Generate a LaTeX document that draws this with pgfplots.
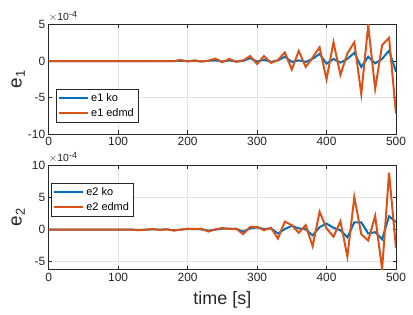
\documentclass[border=0pt]{standalone}
\usepackage{pgfplots}
\pgfplotsset{compat=1.18}
\usepackage{pgfplotstable}
\usepackage{fontspec}
\setmainfont{Liberation Sans}
\definecolor{mblue}{rgb}{0,0.447,0.741}
\definecolor{morange}{rgb}{0.85,0.325,0.098}
\definecolor{axgray}{rgb}{0.15,0.15,0.15}

\pgfplotstableread{
x e1ko e1edmd e2ko e2edmd
0 0 0 0 0
10 0 0 0 0
20 0 0 0 0
30 0 0 0 0
40 0 0 0 0
50 0 0 0 0
60 0 0 0 0
70 0 0 0 0
80 0 0 0 0
90 0 0 0 0
100 0 0 0 0
110 0 0 0 0
120 0 0 0 0
130 0 0 -0.05 -0.1
140 0 0.02 0 0
150 0 0 0.05 0.1
160 0 0.02 0 -0.05
170 0 0 0.05 0.05
180 0 0 -0.1 -0.15
190 0.05 0.15 0 0
200 0 -0.05 0.1 0.15
210 0.05 0.1 0.1 0.1
220 -0.05 -0.05 0.05 0.15
230 0.05 0.05 -0.15 -0.3
240 0.1 0.35 0 0.05
250 -0.05 -0.15 0.15 0.25
260 0.1 0.3 0.15 0.1
270 -0.05 -0.1 0.1 0.15
280 0.05 0.1 -0.3 -0.7
290 0.4 0.7 0.2 0.45
300 -0.05 -0.4 0.35 0.45
310 0.2 0.7 0.1 -0.1
320 -0.1 -0.25 0.2 0.3
330 0.1 0.15 -0.6 -1.4
340 0.6 1.2 0.1 1.25
350 -0.1 -1.15 0.6 0.7
360 0.1 1.4 0.2 -0.5
370 -0.1 -0.8 0.05 0.7
380 0.3 0.5 -0.9 -2.6
390 1.0 1.9 0.4 2.8
400 -0.35 -2.5 0.95 0.2
410 0.3 2.6 0.3 -1.1
420 -0.2 -1.9 -0.1 1.3
430 0.3 1.05 -1.2 -4.2
440 1.15 2.6 1.15 5.1
450 -0.8 -4.5 1.15 -0.7
460 0.6 4.9 -0.6 -1.7
470 -0.3 -3.8 -0.4 2.15
480 0.3 2.2 -1.5 -6.2
490 1.45 3.2 2.1 8.9
500 -1.45 -7.2 1.15 -2.9
}\data

\pgfplotsset{
  mystyle/.style={
    scale only axis,
    width=347.3bp,
    xmin=0, xmax=500,
    xtick={0,100,...,500},
    axis line style={axgray, line width=0.5bp},
    tick style={axgray, line width=0.5bp},
    major tick length=3.5bp,
    tick align=inside,
    xtick pos=both, ytick pos=both,
    grid=major,
    major grid style={gray!22, line width=0.5bp},
    tick label style={font=\fontsize{12}{12}\selectfont, text=axgray},
    /pgf/number format/assume math mode=true,
    scaled ticks=false,
    legend style={font=\fontsize{11}{12}\selectfont, draw=axgray, fill=white, inner xsep=2bp, inner ysep=2.5bp, row sep=1.5bp,
      cells={anchor=west}},
    legend image code/.code={\draw[##1, line width=2bp] (0bp,0bp) -- (29bp,0bp);},
    every axis plot/.append style={line width=2bp},
  }
}

\begin{document}
\begin{tikzpicture}
\useasboundingbox (0,0) rectangle (413bp,315bp);
\begin{axis}[mystyle, name=top,
  at={(48.7bp,181bp)}, anchor=south west,
  height=109.3bp,
  ymin=-10, ymax=5,
  ytick={-10,-5,0,5},
  ylabel={e{\fontsize{13}{13}\selectfont\raisebox{-0.45ex}{1}}},
  ylabel style={font=\fontsize{19}{19}\selectfont, at={(axis description cs:-0.088,0.5)}, anchor=center, text=axgray},
  legend style={at={(axis description cs:0.021,0.415)}, anchor=north west},
]
\addplot[mblue] table[x=x,y=e1ko]{\data};
\addlegendentry{e1 ko}
\addplot[morange] table[x=x,y=e1edmd]{\data};
\addlegendentry{e1 edmd}
\end{axis}
\node[anchor=south west, inner sep=0pt, font=\fontsize{10.5}{11}\selectfont, text=axgray] at ([yshift=3bp]top.north west) {$\times$10\raisebox{0.6ex}{\fontsize{9}{9}\selectfont -4}};
\begin{axis}[mystyle, name=bot,
  at={(48.7bp,45.7bp)}, anchor=south west,
  height=103.6bp,
  ymin=-6.2, ymax=10,
  ytick={-5,0,5,10},
  ylabel={e{\fontsize{13}{13}\selectfont\raisebox{-0.45ex}{2}}},
  ylabel style={font=\fontsize{19}{19}\selectfont, at={(axis description cs:-0.088,0.5)}, anchor=center, text=axgray},
  xlabel={time [s]},
  xlabel style={font=\fontsize{18}{18}\selectfont, text=axgray, at={(axis description cs:0.5,0)}, anchor=center, yshift=-31bp},
  legend style={at={(axis description cs:0.007,0.835)}, anchor=north west},
]
\addplot[mblue] table[x=x,y=e2ko]{\data};
\addlegendentry{e2 ko}
\addplot[morange] table[x=x,y=e2edmd]{\data};
\addlegendentry{e2 edmd}
\end{axis}
\node[anchor=south west, inner sep=0pt, font=\fontsize{10.5}{11}\selectfont, text=axgray] at ([yshift=3bp]bot.north west) {$\times$10\raisebox{0.6ex}{\fontsize{9}{9}\selectfont -4}};
\end{tikzpicture}
\end{document}
